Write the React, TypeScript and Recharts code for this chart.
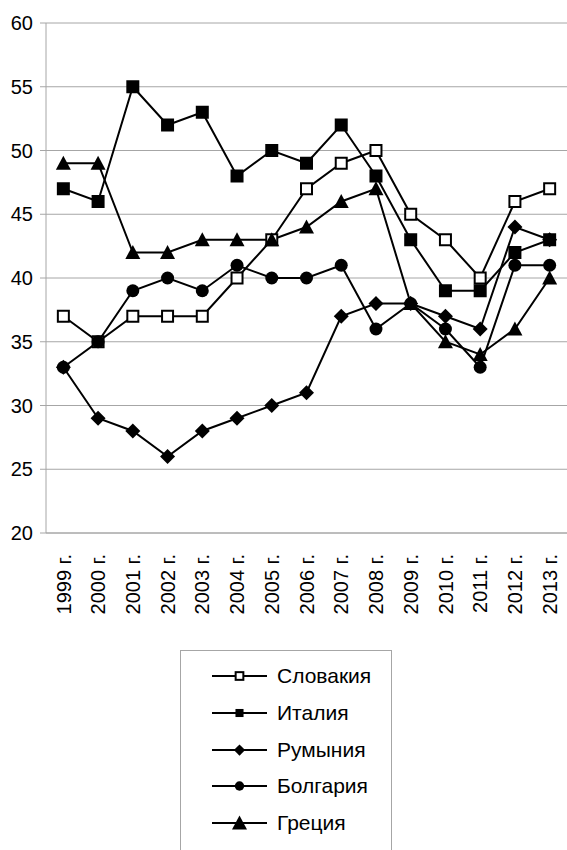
import React from 'react';
import { LineChart, Line, XAxis, YAxis, CartesianGrid, Legend } from 'recharts';

const FONT = '"Liberation Sans", Arial, sans-serif';
const GRID = '#a6a6a6';

const years = [
  '1999 г.', '2000 г.', '2001 г.', '2002 г.', '2003 г.', '2004 г.', '2005 г.', '2006 г.',
  '2007 г.', '2008 г.', '2009 г.', '2010 г.', '2011 г.', '2012 г.', '2013 г.',
];
const slovakia = [37, 35, 37, 37, 37, 40, 43, 47, 49, 50, 45, 43, 40, 46, 47];
const italy = [47, 46, 55, 52, 53, 48, 50, 49, 52, 48, 43, 39, 39, 42, 43];
const romania = [33, 29, 28, 26, 28, 29, 30, 31, 37, 38, 38, 37, 36, 44, 43];
const bulgaria = [33, 35, 39, 40, 39, 41, 40, 40, 41, 36, 38, 36, 33, 41, 41];
const greece = [49, 49, 42, 42, 43, 43, 43, 44, 46, 47, 38, 35, 34, 36, 40];
const yTicks = [20, 25, 30, 35, 40, 45, 50, 55, 60];
const boundaryTicks = [0, 1, 2, 3, 4, 5, 6, 7, 8, 9, 10, 11, 12, 13, 14, 15];

type Shape = 'openSquare' | 'square' | 'diamond' | 'circle' | 'triangle';

const series: { key: string; name: string; shape: Shape }[] = [
  { key: 'sk', name: 'Словакия', shape: 'openSquare' },
  { key: 'it', name: 'Италия', shape: 'square' },
  { key: 'ro', name: 'Румыния', shape: 'diamond' },
  { key: 'bg', name: 'Болгария', shape: 'circle' },
  { key: 'gr', name: 'Греция', shape: 'triangle' },
];

const data = years.map((year, i) => ({
  year,
  sk: slovakia[i],
  it: italy[i],
  ro: romania[i],
  bg: bulgaria[i],
  gr: greece[i],
}));

function Marker({ shape, cx, cy, k = 1 }: { shape: Shape; cx: number; cy: number; k?: number }) {
  switch (shape) {
    case 'openSquare': {
      const h = 5.5 * k;
      return <rect x={cx - h} y={cy - h} width={2 * h} height={2 * h} fill="#fff" stroke="#000" strokeWidth={2} />;
    }
    case 'square': {
      const h = 6.5 * k;
      return <rect x={cx - h} y={cy - h} width={2 * h} height={2 * h} fill="#000" />;
    }
    case 'diamond': {
      const h = 7.5 * k;
      return <polygon points={`${cx},${cy - h} ${cx + h},${cy} ${cx},${cy + h} ${cx - h},${cy}`} fill="#000" />;
    }
    case 'circle':
      return <circle cx={cx} cy={cy} r={6.5 * k} fill="#000" />;
    case 'triangle': {
      const w = 7.5 * k;
      const h = 6.5 * k;
      return <polygon points={`${cx},${cy - h - 1} ${cx + w},${cy + h} ${cx - w},${cy + h}`} fill="#000" />;
    }
  }
  return null;
}

function makeDot(shape: Shape) {
  return (props: any) => {
    const { cx, cy, index } = props;
    if (cx == null || cy == null) return <g key={index} />;
    return (
      <g key={`${shape}-${index}`}>
        <Marker shape={shape} cx={cx} cy={cy} />
      </g>
    );
  };
}

function YearTick(props: any) {
  const { x, y, payload } = props;
  return (
    <text
      x={x}
      y={y}
      dy="0.36em"
      transform={`rotate(-90, ${x}, ${y})`}
      textAnchor="end"
      fontSize={20}
      fontFamily={FONT}
      fill="#000"
    >
      {payload.value}
    </text>
  );
}

const legendMarkerScale: Record<Shape, number> = {
  openSquare: 0.7,
  square: 0.62,
  diamond: 0.75,
  circle: 0.72,
  triangle: 1,
};

function LegendBox() {
  return (
    <div
      style={{
        width: 212,
        height: 230,
        border: `1px solid ${GRID}`,
        boxSizing: 'border-box',
        paddingTop: 7,
        background: '#fff',
        fontFamily: FONT,
        fontSize: 21,
      }}
    >
      {series.map((s) => (
        <div key={s.key} style={{ display: 'flex', alignItems: 'center', height: 36.7 }}>
          <svg width={87} height={24} style={{ flex: 'none' }}>
            <line x1={31} y1={12} x2={86} y2={12} stroke="#000" strokeWidth={2} />
            <Marker shape={s.shape} cx={58.5} cy={12} k={legendMarkerScale[s.shape]} />
          </svg>
          <span style={{ marginLeft: 9, color: '#000' }}>{s.name}</span>
        </div>
      ))}
    </div>
  );
}

export default function App() {
  return (
    <div style={{ position: 'absolute', left: 0, top: 0, width: 567, height: 850, background: '#fff' }}>
      <LineChart
        width={567}
        height={850}
        data={data}
        margin={{ top: 23, right: 0, left: 0, bottom: 231 }}
      >
        <CartesianGrid xAxisId="labels" vertical={false} stroke={GRID} />
        <XAxis
          xAxisId="bounds"
          type="number"
          domain={[0, 15]}
          ticks={boundaryTicks}
          tick={false}
          tickSize={5}
          height={6}
          axisLine={{ stroke: GRID }}
          tickLine={{ stroke: GRID }}
        />
        <XAxis
          xAxisId="labels"
          dataKey="year"
          interval={0}
          padding={{ left: 17.35, right: 17.35 }}
          axisLine={false}
          tickLine={false}
          tickSize={0}
          tickMargin={15}
          height={80}
          tick={<YearTick />}
        />
        <YAxis
          domain={[20, 60]}
          ticks={yTicks}
          width={46}
          tickSize={6}
          tickMargin={7}
          axisLine={{ stroke: GRID }}
          tickLine={{ stroke: GRID }}
          tick={{ fontSize: 20, fill: '#000', fontFamily: FONT }}
        />
        {series.map((s) => (
          <Line
            key={s.key}
            xAxisId="labels"
            dataKey={s.key}
            name={s.name}
            stroke="#000"
            strokeWidth={2}
            dot={makeDot(s.shape)}
            activeDot={false}
            isAnimationActive={false}
          />
        ))}
        <Legend
          layout="vertical"
          align="center"
          verticalAlign="middle"
          wrapperStyle={{ left: 180, top: 650, width: 212, height: 230 }}
          content={() => <LegendBox />}
        />
      </LineChart>
    </div>
  );
}
